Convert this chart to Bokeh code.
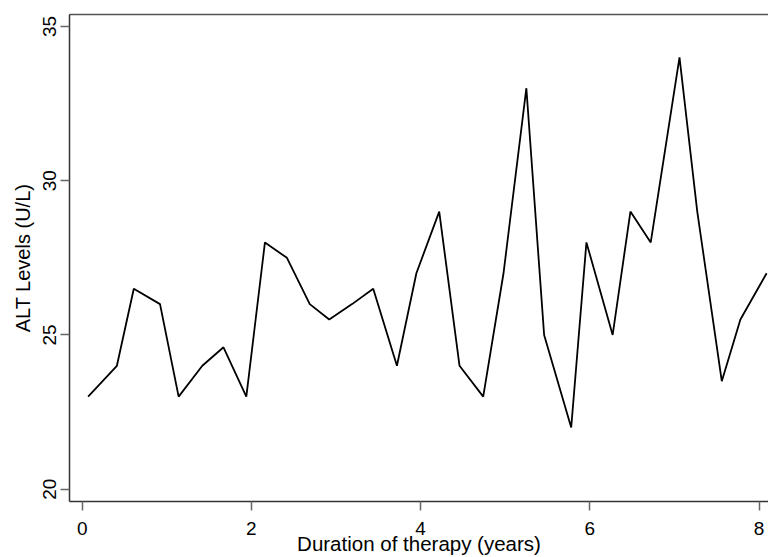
from bokeh.plotting import figure
from bokeh.models import LinearAxis, FixedTicker, Range1d
from bokeh.embed import file_html
from bokeh.resources import INLINE

# Data
years = [0.07, 0.41, 0.61, 0.92, 1.14, 1.42, 1.67, 1.94, 2.16, 2.42, 2.69, 2.92,
         3.19, 3.44, 3.72, 3.95, 4.22, 4.46, 4.74, 4.98, 5.25, 5.46, 5.78, 5.96,
         6.27, 6.48, 6.72, 7.06, 7.27, 7.56, 7.78, 8.09]
alt = [23, 24, 26.5, 26, 23, 24, 24.6, 23, 28, 27.5, 26, 25.5,
       26, 26.5, 24, 27, 29, 24, 23, 27, 33, 25, 22, 28,
       25, 29, 28, 34, 29, 23.5, 25.5, 27]
x_ticks = [0, 2, 4, 6, 8]
y_ticks = [20, 25, 30, 35]
x_title = "Duration of therapy (years)"
y_title = "ALT Levels (U/L)"

FONT = "Liberation Sans"

p = figure(width=768, height=557, output_backend="svg", toolbar_location=None,
           x_range=Range1d(-0.150, 8.112), y_range=Range1d(19.60, 35.39),
           min_border_left=69, min_border_right=0, min_border_top=14,
           min_border_bottom=55)
p.outline_line_color = None
p.grid.visible = False
p.background_fill_color = "white"
p.border_fill_color = "white"

p.line(years, alt, line_color="black", line_width=1.8)

for ax in (p.xaxis[0], p.yaxis[0]):
    ax.axis_line_color = "#333333"
    ax.axis_line_width = 1.5
    ax.major_tick_line_color = "#666666"
    ax.major_tick_line_width = 1.5
    ax.major_tick_out = 9
    ax.major_tick_in = 0
    ax.minor_tick_line_color = None
    ax.major_label_text_font = FONT
    ax.major_label_text_font_size = "19px"
    ax.major_label_text_color = "black"
    ax.axis_label_text_font = FONT
    ax.axis_label_text_font_style = "normal"
    ax.axis_label_text_color = "black"

p.xaxis[0].ticker = FixedTicker(ticks=x_ticks)
p.yaxis[0].ticker = FixedTicker(ticks=y_ticks)
p.xaxis[0].axis_label = x_title
p.xaxis[0].axis_label_text_font_size = "20.5px"
p.xaxis[0].major_label_standoff = 11
p.xaxis[0].axis_label_standoff = -6
p.yaxis[0].axis_label = y_title
p.yaxis[0].axis_label_text_font_size = "20px"
p.yaxis[0].major_label_orientation = "vertical"
p.yaxis[0].major_label_standoff = 4
p.yaxis[0].axis_label_standoff = 7

top = LinearAxis(ticker=FixedTicker(ticks=[]), axis_line_color="#555555",
                 axis_line_width=1.5, major_tick_line_color=None,
                 minor_tick_line_color=None, major_label_text_font_size="0px")
p.add_layout(top, "above")

open("out.html", "w").write(file_html(p, INLINE))
